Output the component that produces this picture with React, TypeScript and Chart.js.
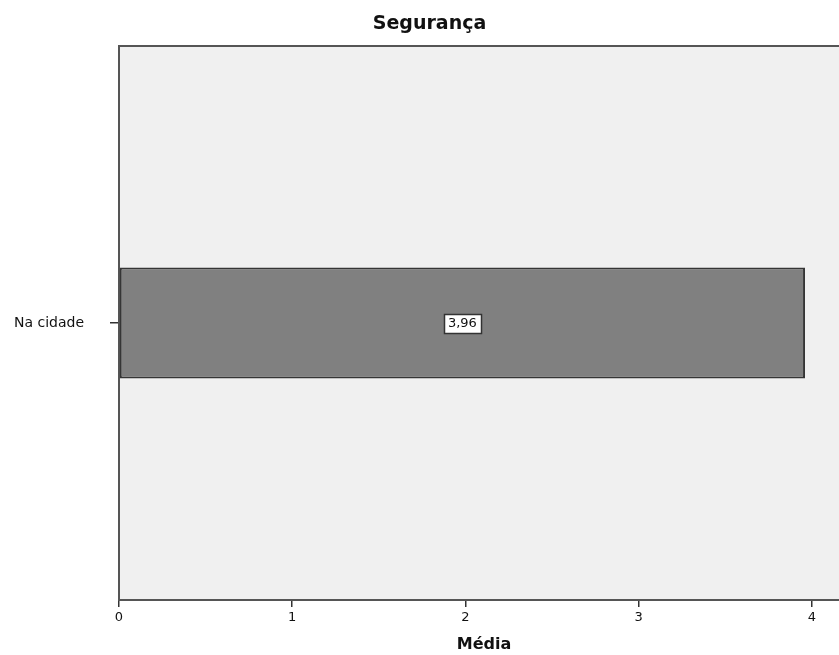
import React, { useEffect, useRef } from "react";
import { Chart, registerables } from "chart.js";

Chart.register(...registerables);

const categories = ["Na cidade"];
const values = [3.96];
const valueLabels = ["3,96"];
const chartTitle = "Segurança";
const xAxisTitle = "Média";

const FONT = "'DejaVu Sans', sans-serif";

const bgPlugin = {
  id: "plotBg",
  beforeDraw(chart: any) {
    const { ctx, chartArea } = chart;
    ctx.save();
    ctx.fillStyle = "#f0f0f0";
    ctx.fillRect(chartArea.left, chartArea.top, chartArea.right - chartArea.left, chartArea.bottom - chartArea.top);
    ctx.restore();
  },
  afterDatasetsDraw(chart: any) {
    const { ctx } = chart;
    const meta = chart.getDatasetMeta(0);
    ctx.save();
    ctx.font = `13px ${FONT}`;
    ctx.textAlign = "center";
    ctx.textBaseline = "middle";
    meta.data.forEach((bar: any, i: number) => {
      const label = valueLabels[i];
      const cx = (bar.base + bar.x) / 2;
      const cy = bar.y;
      const w = Math.round(ctx.measureText(label).width + 8);
      const h = 19;
      const x0 = Math.round(cx - w / 2);
      const y0 = Math.round(cy - h / 2);
      ctx.fillStyle = "#ffffff";
      ctx.fillRect(x0, y0, w, h);
      ctx.strokeStyle = "#333333";
      ctx.lineWidth = 1.5;
      ctx.strokeRect(x0 + 0.5, y0 + 0.5, w, h);
      ctx.fillStyle = "#111111";
      ctx.fillText(label, cx, cy + 1);
    });
    ctx.restore();
  },
  afterDraw(chart: any) {
    const { ctx, chartArea } = chart;
    ctx.save();
    ctx.strokeStyle = "#555555";
    ctx.lineWidth = 2;
    ctx.beginPath();
    ctx.moveTo(chartArea.left - 1, chartArea.top);
    ctx.lineTo(chartArea.right + 5, chartArea.top);
    ctx.stroke();
    ctx.fillStyle = "#111111";
    ctx.textAlign = "center";
    ctx.textBaseline = "middle";
    ctx.font = `bold 19px ${FONT}`;
    ctx.fillText(chartTitle, 429.5, 24);
    ctx.font = `bold 16px ${FONT}`;
    ctx.fillText(xAxisTitle, (chartArea.left + chartArea.right) / 2 + 5, 645);
    ctx.restore();
  },
};

export default function App() {
  const ref = useRef<HTMLCanvasElement>(null);
  useEffect(() => {
    document.body.style.margin = "0";
    const chart = new Chart(ref.current!, {
      type: "bar",
      data: {
        labels: categories,
        datasets: [
          {
            data: values,
            backgroundColor: "#808080",
            borderColor: "#353535",
            borderWidth: 2,
            borderSkipped: false,
            barPercentage: 0.2,
            categoryPercentage: 1,
          },
        ],
      },
      options: {
        indexAxis: "y",
        animation: false,
        responsive: false,
        layout: { padding: { top: 46, right: 0, bottom: 0, left: 0 } },
        plugins: {
          legend: { display: false },
          tooltip: { enabled: false },
          title: { display: false },
        },
        scales: {
          x: {
            type: "linear",
            min: 0,
            max: 4.156,
            ticks: { stepSize: 1, includeBounds: false, color: "#111111", font: { family: FONT, size: 13 }, padding: 3 },
            grid: { drawOnChartArea: false, drawTicks: true, tickLength: 7, color: "#333333", lineWidth: 1.5 },
            border: { display: true, color: "#555555", width: 2 },
            afterFit(scale: any) { scale.height = 55; },
          },
          y: {
            type: "category",
            ticks: { color: "#111111", font: { family: FONT, size: 14 }, padding: 26 },
            grid: { drawOnChartArea: false, drawTicks: true, tickLength: 9, offset: false, color: "#333333", lineWidth: 1.5 },
            border: { display: true, color: "#555555", width: 2 },
            afterFit(scale: any) { scale.width = 119; },
          },
        },
      },
      plugins: [bgPlugin],
    });
    return () => chart.destroy();
  }, []);
  return (
    <canvas ref={ref} width={839} height={655} style={{ position: "fixed", left: 0, top: 0, width: 839, height: 655 }} />
  );
}
